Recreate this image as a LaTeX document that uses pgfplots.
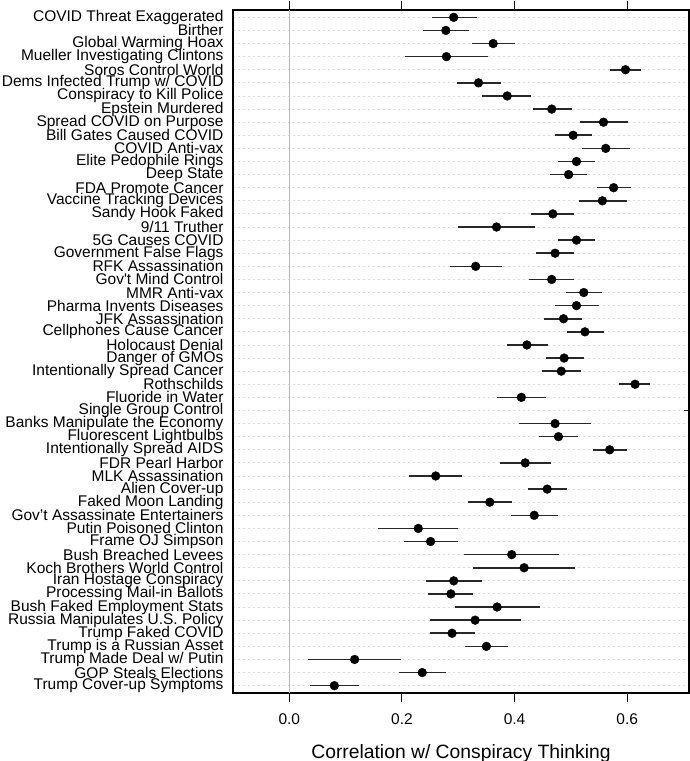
\documentclass[border=0pt]{standalone}
\usepackage{fontspec}
\setmainfont{Liberation Sans}
\usepackage{pgfplots}
\pgfplotsset{compat=1.18}
\usepackage{pgfplotstable}
\definecolor{gridc}{RGB}{218,218,218}
\definecolor{zeroc}{RGB}{185,185,185}
\definecolor{barc}{RGB}{40,40,40}
\pgfplotstableread{
row est lo hi
1 0.292 0.253 0.333
2 0.278 0.238 0.319
3 0.362 0.324 0.400
4 0.279 0.205 0.352
5 0.597 0.569 0.625
6 0.336 0.298 0.376
7 0.387 0.343 0.429
8 0.466 0.432 0.502
9 0.558 0.517 0.601
10 0.504 0.471 0.537
11 0.562 0.520 0.605
12 0.510 0.478 0.543
13 0.496 0.463 0.529
14 0.576 0.547 0.606
15 0.556 0.515 0.599
16 0.468 0.429 0.506
17 0.368 0.300 0.436
18 0.510 0.477 0.543
19 0.472 0.438 0.506
20 0.331 0.285 0.377
21 0.466 0.426 0.506
22 0.523 0.491 0.555
23 0.510 0.472 0.550
24 0.487 0.452 0.520
25 0.525 0.493 0.558
26 0.422 0.386 0.459
27 0.488 0.455 0.523
28 0.483 0.449 0.518
29 0.614 0.586 0.641
30 0.412 0.369 0.455
31 0.740 0.701 0.780
32 0.472 0.408 0.536
33 0.478 0.444 0.512
34 0.569 0.539 0.599
35 0.419 0.374 0.465
36 0.260 0.213 0.306
37 0.458 0.424 0.493
38 0.356 0.318 0.395
39 0.435 0.394 0.477
40 0.229 0.158 0.299
41 0.251 0.204 0.299
42 0.395 0.310 0.479
43 0.417 0.327 0.507
44 0.292 0.242 0.343
45 0.287 0.246 0.327
46 0.369 0.294 0.446
47 0.330 0.250 0.411
48 0.289 0.249 0.330
49 0.350 0.312 0.389
50 0.116 0.034 0.199
51 0.236 0.195 0.278
52 0.080 0.037 0.124
}\datatable
\begin{document}
\begin{tikzpicture}
\begin{axis}[
  at={(233pt,68pt)}, anchor=south west,
  scale only axis, width=456pt, height=683pt,
  xmin=-0.1, xmax=0.7098, ymin=0.44, ymax=52.56, y dir=reverse,
  axis line style={black, line width=1.1pt},
  tick align=outside, major tick length=9pt,
  xtick={0,0.2,0.4,0.6}, xticklabels={0.0,0.2,0.4,0.6},
  xtick pos=both, xticklabel pos=lower,
  x tick style={black, line width=1pt},
  xticklabel style={font=\fontsize{15.5}{16}\selectfont, yshift=-8pt},
  ytick={1,...,52}, ytick style={draw=none},
  yticklabel style={font=\fontsize{15.5}{15.5}\selectfont, align=right, xshift=3pt},
  yticklabels={COVID Threat Exaggerated,Birther,Global Warming Hoax,Mueller Investigating Clintons,Soros Control World,Dems Infected Trump w/ COVID,Conspiracy to Kill Police,Epstein Murdered,Spread COVID on Purpose,Bill Gates Caused COVID,COVID Anti-vax,Elite Pedophile Rings,Deep State,FDA Promote Cancer,Vaccine Tracking Devices,Sandy Hook Faked,9/11 Truther,5G Causes COVID,Government False Flags,RFK Assassination,Gov\textquotesingle t Mind Control,MMR Anti-vax,Pharma Invents Diseases,JFK Assassination,Cellphones Cause Cancer,Holocaust Denial,Danger of GMOs,Intentionally Spread Cancer,Rothschilds,Fluoride in Water,Single Group Control,Banks Manipulate the Economy,Fluorescent Lightbulbs,Intentionally Spread AIDS,FDR Pearl Harbor,MLK Assassination,Alien Cover-up,Faked Moon Landing,Gov’t Assassinate Entertainers,Putin Poisoned Clinton,Frame OJ Simpson,Bush Breached Levees,Koch Brothers World Control,Iran Hostage Conspiracy,Processing Mail-in Ballots,Bush Faked Employment Stats,Russia Manipulates U.S. Policy,Trump Faked COVID,Trump is a Russian Asset,Trump Made Deal w/ Putin,GOP Steals Elections,Trump Cover-up Symptoms},
  ymajorgrids, y grid style={gridc, line width=0.9pt, dash pattern=on 2pt off 3pt},
  extra x ticks={0}, extra x tick labels={},
  extra x tick style={grid=major, major grid style={zeroc, solid, line width=1.1pt}},
  xlabel={Correlation w/ Conspiracy Thinking},
  xlabel style={font=\fontsize{19.3}{19.5}\selectfont, yshift=5pt},
  clip=true,
]
\addplot[only marks, mark=*, mark size=4.4pt, black,
  error bars/.cd, x dir=both, x explicit, error mark=none,
  error bar style={barc, line width=1.6pt}]
  table[x=est, y=row,
        x error plus expr=\thisrow{hi}-\thisrow{est},
        x error minus expr=\thisrow{est}-\thisrow{lo}] {\datatable};
\end{axis}
\pgfresetboundingbox
\path[use as bounding box] (0,0) rectangle (690pt,761pt);
\end{tikzpicture}
\end{document}
